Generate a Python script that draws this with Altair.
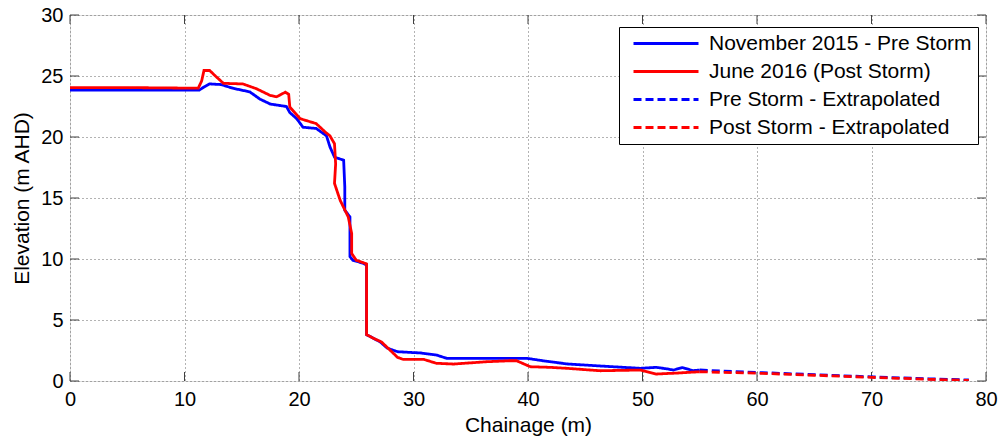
import altair as alt
import pandas as pd

# Pre storm (November 2015) survey
pre_x = [0, 5, 11.3, 11.7, 12.2, 13.2, 14.2, 15.7, 16.6, 17.5, 18.9, 19.2, 19.8, 20.35, 21.5, 22.4,
         22.7, 23.1, 23.9, 24.0, 24.0, 24.45, 24.45, 24.7, 25.6, 25.9, 25.9, 27.1, 27.7, 28.6, 30.6,
         32.0, 32.9, 37.8, 39.9, 41.3, 43.4, 46.3, 49.8, 51.2, 52.1, 52.7, 53.5, 54.4, 55.0]
pre_y = [23.85, 23.85, 23.85, 24.1, 24.35, 24.3, 24.0, 23.7, 23.1, 22.7, 22.5, 22.0, 21.5, 20.8, 20.7, 20.1,
         19.2, 18.35, 18.1, 15.9, 14.0, 13.45, 10.2, 9.9, 9.65, 9.5, 3.8, 3.2, 2.7, 2.4, 2.3,
         2.13, 1.86, 1.86, 1.86, 1.66, 1.4, 1.23, 1.04, 1.12, 1.0, 0.9, 1.1, 0.85, 0.9]

# Post storm (June 2016) survey
post_x = [0, 5, 11.2, 11.5, 11.7, 12.2, 12.7, 13.4, 15.1, 16.3, 17.5, 18.05, 18.8, 19.1, 19.2, 20.1,
          21.5, 22.3, 22.7, 23.1, 23.2, 23.1, 23.6, 24.3, 24.6, 24.6, 25.0, 25.9, 25.9, 26.5, 27.2,
          28.1, 28.6, 29.1, 30.9, 32.0, 33.5, 36.4, 38.4, 39.0, 40.2, 41.9, 43.4, 46.3, 49.8, 51.2,
          53.0, 55.0]
post_y = [24.05, 24.05, 24.0, 24.6, 25.45, 25.45, 25.0, 24.4, 24.35, 23.95, 23.4, 23.3, 23.67, 23.5, 22.45, 21.5,
          21.1, 20.4, 20.1, 19.45, 17.8, 16.2, 14.8, 13.45, 12.1, 10.45, 9.9, 9.6, 3.8, 3.5, 3.2,
          2.4, 1.94, 1.77, 1.77, 1.45, 1.39, 1.58, 1.66, 1.66, 1.17, 1.12, 1.04, 0.84, 0.9, 0.57,
          0.65, 0.76]

# Extrapolated sections
pre_ext_x = [55.0, 60, 65, 70, 75, 78.5]
pre_ext_y = [0.9, 0.7, 0.52, 0.34, 0.18, 0.08]
post_ext_x = [55.0, 60, 65, 70, 75, 78.5]
post_ext_y = [0.76, 0.64, 0.47, 0.3, 0.14, 0.04]

series_names = ["November 2015 - Pre Storm", "June 2016 (Post Storm)",
                "Pre Storm - Extrapolated", "Post Storm - Extrapolated"]
series_colors = ["#0000ff", "#ff0000", "#0000ff", "#ff0000"]
series_dash = [[1, 0], [1, 0], [8, 4], [8, 4]]

x_ticks = [0, 10, 20, 30, 40, 50, 60, 70, 80]
y_ticks = [0, 5, 10, 15, 20, 25, 30]

rows = []
for name, xs, ys in zip(series_names,
                        [pre_x, post_x, pre_ext_x, post_ext_x],
                        [pre_y, post_y, pre_ext_y, post_ext_y]):
    for i, (a, b) in enumerate(zip(xs, ys)):
        rows.append({"series": name, "x": a, "y": b, "idx": i})
df = pd.DataFrame(rows)

W, H = 916, 366
xscale = alt.Scale(domain=[0, 80], nice=False, zero=False)
yscale = alt.Scale(domain=[0, 30], nice=False, zero=False)

legend_opts = dict(title=None, orient="none", legendX=549, legendY=12,
                   symbolType="stroke", symbolSize=4225, symbolStrokeWidth=2.8,
                   labelFontSize=21, labelColor="#000000", clipHeight=21,
                   rowPadding=6, padding=6, symbolOffset=7, labelOffset=9,
                   fillColor="#ffffff", strokeColor="#000000", labelLimit=400)

lines = alt.Chart(df).mark_line(strokeWidth=2.8, clip=True).encode(
    x=alt.X("x:Q", scale=xscale, axis=alt.Axis(
        values=x_ticks, title="Chainage (m)", grid=True, gridDash=[1, 3], gridColor="#666666",
        gridOpacity=1, ticks=False, domain=False, labelPadding=8, labelFontSize=20,
        titleFontSize=21, titleFontWeight="normal", titleY=44, titleBaseline="middle",
        labelFlush=False, labelColor="#000000", titleColor="#000000")),
    y=alt.Y("y:Q", scale=yscale, axis=alt.Axis(
        values=y_ticks, title="Elevation (m AHD)", grid=True, gridDash=[1, 3], gridColor="#666666",
        gridOpacity=1, ticks=False, domain=False, labelPadding=7, labelFontSize=20,
        titleFontSize=21, titleFontWeight="normal", titleX=-48, titleY=H / 2,
        titleAngle=-90, titleBaseline="middle", titleAlign="center",
        labelFlush=False, labelColor="#000000", titleColor="#000000")),
    color=alt.Color("series:N", scale=alt.Scale(domain=series_names, range=series_colors),
                    legend=alt.Legend(**legend_opts)),
    strokeDash=alt.StrokeDash("series:N", scale=alt.Scale(domain=series_names, range=series_dash),
                              legend=alt.Legend(**legend_opts)),
    order=alt.Order("idx:Q"),
    detail="series:N",
)

tx = pd.DataFrame({"t": x_ticks})
ty = pd.DataFrame({"t": y_ticks})
tick_len = 9
xt_bottom = alt.Chart(tx).mark_rule(color="#404040", strokeWidth=1).encode(
    x=alt.X("t:Q", scale=xscale), y=alt.value(H), y2=alt.value(H - tick_len))
xt_top = alt.Chart(tx).mark_rule(color="#404040", strokeWidth=1).encode(
    x=alt.X("t:Q", scale=xscale), y=alt.value(0), y2=alt.value(tick_len))
yt_left = alt.Chart(ty).mark_rule(color="#404040", strokeWidth=1).encode(
    y=alt.Y("t:Q", scale=yscale), x=alt.value(0), x2=alt.value(tick_len))
yt_right = alt.Chart(ty).mark_rule(color="#404040", strokeWidth=1).encode(
    y=alt.Y("t:Q", scale=yscale), x=alt.value(W), x2=alt.value(W - tick_len))

chart = alt.layer(xt_bottom, xt_top, yt_left, yt_right, lines).properties(
    width=W, height=H,
    autosize=alt.AutoSizeParams(type="none"),
    padding={"left": 70, "top": 15, "right": 17, "bottom": 62},
    background="#ffffff",
).configure_view(stroke="#404040", strokeWidth=1).configure(
    font="Liberation Sans"
)

chart.save("out.html", embed_options={"renderer": "svg", "actions": False})
